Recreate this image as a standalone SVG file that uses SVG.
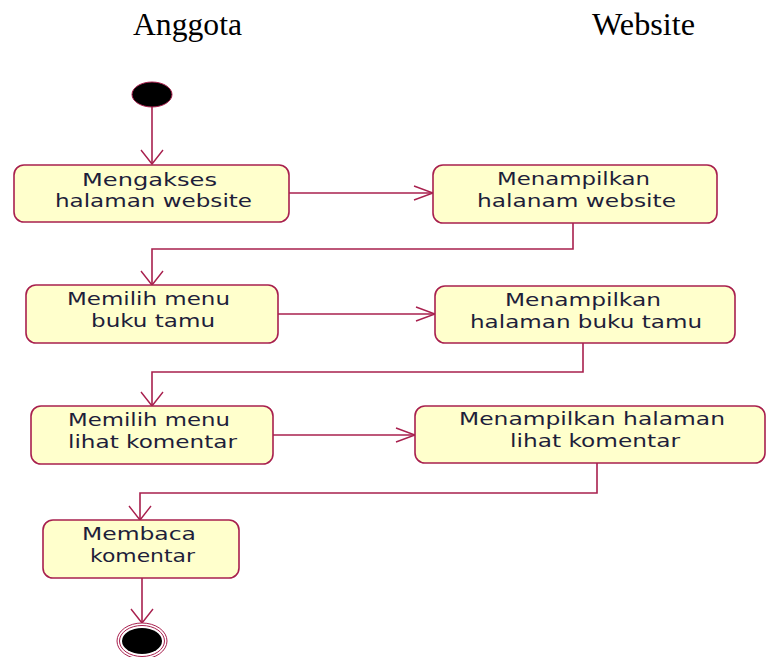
<svg xmlns="http://www.w3.org/2000/svg" width="768" height="657" viewBox="0 0 768 657">
<style>
.title{font-family:"Liberation Serif","Times New Roman",serif;font-size:31px;fill:#000}
.box{fill:#FFFFCC;stroke:#A8204E;stroke-width:1.6}
.lbl{font-family:"DejaVu Sans",Verdana,sans-serif;font-size:18px;fill:#1E1E3A}
.conn{fill:none;stroke:#A8204E;stroke-width:1.6}
</style>
<defs>
<marker id="arrDown" markerUnits="userSpaceOnUse" orient="0" refX="0" refY="0" markerWidth="30" markerHeight="30" overflow="visible">
<path d="M-11,-14 L0,0 L11,-14" fill="none" stroke="#A8204E" stroke-width="1.4"/>
</marker>
<marker id="arrRight" markerUnits="userSpaceOnUse" orient="0" refX="0" refY="0" markerWidth="30" markerHeight="30" overflow="visible">
<path d="M-19,-7 L0,0 L-19,7" fill="none" stroke="#A8204E" stroke-width="1.4"/>
</marker>
</defs>
<text class="title" x="133" y="35" textLength="109" lengthAdjust="spacingAndGlyphs">Anggota</text>
<text class="title" x="592" y="35" textLength="103" lengthAdjust="spacingAndGlyphs">Website</text>
<g id="connectors">
<path class="conn" d="M152,107 V164" marker-end="url(#arrDown)"/>
<path class="conn" d="M289,193 H433" marker-end="url(#arrRight)"/>
<path class="conn" d="M573,223 V249 H152 V285" marker-end="url(#arrDown)"/>
<path class="conn" d="M278,314 H435" marker-end="url(#arrRight)"/>
<path class="conn" d="M583,343 V372 H152 V406" marker-end="url(#arrDown)"/>
<path class="conn" d="M273,435 H415" marker-end="url(#arrRight)"/>
<path class="conn" d="M597,463 V493 H140 V520" marker-end="url(#arrDown)"/>
<path class="conn" d="M142,578 V623" marker-end="url(#arrDown)"/>
</g>
<g id="start">
<ellipse cx="152" cy="94.5" rx="20" ry="12.5" fill="#000" stroke="#A8204E" stroke-width="1"/>
</g>
<g id="n1">
<rect class="box" x="14" y="165" width="275" height="57" rx="10" ry="10"/>
<text class="lbl" x="82" y="186" textLength="135" lengthAdjust="spacingAndGlyphs">Mengakses</text>
<text class="lbl" x="55" y="207" textLength="197" lengthAdjust="spacingAndGlyphs">halaman website</text>
</g>
<g id="n2">
<rect class="box" x="433" y="165" width="284" height="58" rx="10" ry="10"/>
<text class="lbl" x="497" y="185" textLength="153" lengthAdjust="spacingAndGlyphs">Menampilkan</text>
<text class="lbl" x="477" y="207" textLength="199" lengthAdjust="spacingAndGlyphs">halanam website</text>
</g>
<g id="n3">
<rect class="box" x="26" y="285" width="252" height="58" rx="10" ry="10"/>
<text class="lbl" x="67" y="305" textLength="163" lengthAdjust="spacingAndGlyphs">Memilih menu</text>
<text class="lbl" x="91" y="327" textLength="124" lengthAdjust="spacingAndGlyphs">buku tamu</text>
</g>
<g id="n4">
<rect class="box" x="435" y="286" width="300" height="57" rx="10" ry="10"/>
<text class="lbl" x="505" y="306" textLength="156" lengthAdjust="spacingAndGlyphs">Menampilkan</text>
<text class="lbl" x="470" y="328" textLength="232" lengthAdjust="spacingAndGlyphs">halaman buku tamu</text>
</g>
<g id="n5">
<rect class="box" x="31" y="406" width="242" height="58" rx="10" ry="10"/>
<text class="lbl" x="68" y="426" textLength="162" lengthAdjust="spacingAndGlyphs">Memilih menu</text>
<text class="lbl" x="68" y="448" textLength="169" lengthAdjust="spacingAndGlyphs">lihat komentar</text>
</g>
<g id="n6">
<rect class="box" x="415" y="406" width="350" height="57" rx="10" ry="10"/>
<text class="lbl" x="459" y="425" textLength="266" lengthAdjust="spacingAndGlyphs">Menampilkan halaman</text>
<text class="lbl" x="510" y="447" textLength="170" lengthAdjust="spacingAndGlyphs">lihat komentar</text>
</g>
<g id="n7">
<rect class="box" x="43" y="520" width="196" height="58" rx="10" ry="10"/>
<text class="lbl" x="82" y="540" textLength="114" lengthAdjust="spacingAndGlyphs">Membaca</text>
<text class="lbl" x="90" y="562" textLength="105" lengthAdjust="spacingAndGlyphs">komentar</text>
</g>
<g id="end">
<ellipse cx="142" cy="641" rx="25" ry="18" fill="#fff" stroke="#A8204E" stroke-width="1"/>
<ellipse cx="142" cy="641" rx="22.5" ry="15.5" fill="#fff" stroke="#A8204E" stroke-width="1"/>
<ellipse cx="142" cy="641" rx="20" ry="13" fill="#000"/>
</g>
</svg>
